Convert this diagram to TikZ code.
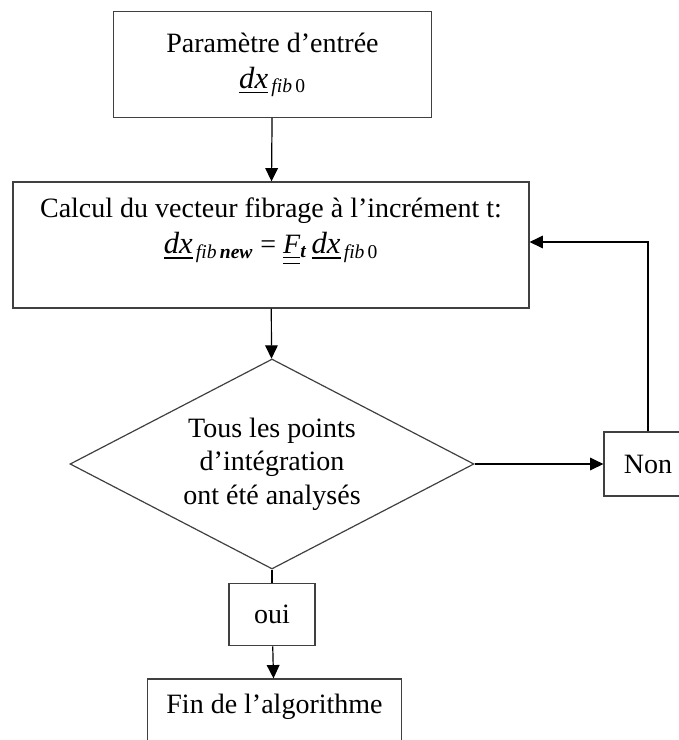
\documentclass[tikz,border=0pt]{standalone}
\usepackage{amsmath}
\usepackage{fontspec}
\setmainfont{Liberation Serif}
\usepackage{tikz}
\usetikzlibrary{shapes.geometric,arrows.meta,positioning,calc}

\newcommand{\uvec}[1]{\underline{\textit{\fontsize{23}{25}\selectfont #1}}}
\newcommand{\tens}[1]{\underline{\underline{\textit{#1}}}}
\newcommand{\fibsub}[1]{$_{\,\textit{fib}\,#1}$}

\begin{document}
\begin{tikzpicture}[x=0.75pt,y=-0.75pt,
  every node/.style={font=\fontsize{21}{25}\selectfont},
  procbox/.style={draw=black!75,line width=0.9pt,rectangle,align=center},
  testbox/.style={draw=black!75,line width=0.9pt,diamond,align=center,
                  inner sep=0pt,aspect=1.95},
  arrow/.style={-{Triangle[length=10pt,width=9.5pt]},line width=0.9pt},
  line/.style={line width=0.9pt}
]
\useasboundingbox (0,0) rectangle (679,740);

\node[procbox,minimum width=239pt,minimum height=79pt] (param) at (272.5,64.5)
  {Paramètre d’entrée\\[2pt] \uvec{dx}\fibsub{\textrm{0}}};
\node[procbox,minimum width=387pt,minimum height=94.5pt,
  label={[align=center,anchor=north,yshift=-9pt]north:{Calcul du vecteur fibrage à l’incrément t:\\[2pt]
  \uvec{dx}\fibsub{\textbf{\textit{new}}} = \tens{F}$_{\textbf{\textit{t}}}$\,\uvec{dx}\fibsub{\textrm{0}}}}]
  (calc) at (271,245) {};
\node[testbox,minimum width=303pt,minimum height=157.5pt] (test) at (272,464)
  {Tous les points\\ d’intégration\\ ont été analysés};
\node[procbox,minimum width=66pt,minimum height=48pt] (non) at (648,464) {Non};
\node[procbox,minimum width=64.5pt,minimum height=47pt] (oui) at (272,614.5) {oui};
\node[procbox,minimum width=191pt,minimum height=64.5pt,
  label={[anchor=north,yshift=-8pt]north:Fin de l’algorithme}]
  (fin) at (274.5,722) {};

\draw[arrow] (param) -- (calc);
\draw[arrow] (calc) -- (test);
\draw[arrow] (test.east) -- (non);
\draw[arrow] (non.north) |- ($(calc.east)+(0,-3)$);
\draw[line] (test.south) -- (oui);
\draw[arrow] (oui) -- (fin);
\end{tikzpicture}
\end{document}
